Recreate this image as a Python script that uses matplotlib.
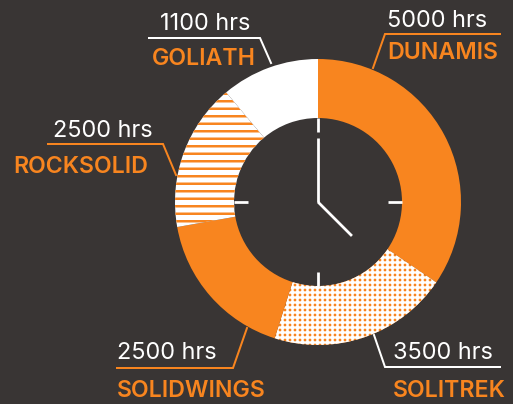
import numpy as np
import matplotlib
matplotlib.use("Agg")
import matplotlib.pyplot as plt

# --- data ---
names = ["DUNAMIS", "SOLITREK", "SOLIDWINGS", "ROCKSOLID", "GOLIATH"]
hours = [5000, 3500, 2500, 2500, 1100]
# slice sizes as drawn in the picture (% of ring, clockwise from 12 o'clock)
shares = [34.5, 20.4, 17.3, 16.7, 11.1]

BG = "#393534"
ORANGE = "#F8851F"
WHITE = "#FFFFFF"

W, H, DPI = 513, 404, 90
CX, CY = 318, 202
R_OUT, R_IN = 143, 84

plt.rcParams["hatch.linewidth"] = 2.0
plt.rcParams["font.family"] = ["Inter", "DejaVu Sans"]

fig = plt.figure(figsize=(W / DPI, H / DPI), dpi=DPI, facecolor=BG)
ax = fig.add_axes([0, 0, 1, 1])
ax.set_facecolor(BG)

# face, hatch colour, hatch pattern
styles = [
    (ORANGE, ORANGE, None),
    (ORANGE, WHITE, "+++"),
    (ORANGE, ORANGE, None),
    (WHITE, ORANGE, "--"),
    (WHITE, WHITE, None),
]

wedges, _ = ax.pie(shares, radius=R_OUT, center=(CX, CY), startangle=90,
                   counterclock=False,
                   wedgeprops=dict(width=R_OUT - R_IN, linewidth=0))
for w, (fc, hc, hatch) in zip(wedges, styles):
    w.set_facecolor(fc)
    w.set_edgecolor(hc)
    w.set_linewidth(0)
    if hatch:
        w.set_hatch(hatch)

# clock face ticks and hands
lw_clock = 2.2
for ang in [90, 0, 180, 270]:
    a = np.deg2rad(ang)
    ax.plot([CX + R_IN * np.cos(a), CX + (R_IN - 14) * np.cos(a)],
            [CY + R_IN * np.sin(a), CY + (R_IN - 14) * np.sin(a)],
            color=WHITE, lw=lw_clock, solid_capstyle="butt")
ax.plot([CX, CX], [CY, CY + 64], color=WHITE, lw=lw_clock, solid_capstyle="butt")
a = np.deg2rad(-45)
ax.plot([CX, CX + 48 * np.cos(a)], [CY, CY + 48 * np.sin(a)],
        color=WHITE, lw=lw_clock, solid_capstyle="butt")

# labels: (x of hours text, baseline of hours, baseline of name, leader line pts, line colour)
# positions in image pixels (y measured from top)
label_pos = {
    "DUNAMIS": (387, 27, 59, [(373, 68), (385, 34), (500, 34)], ORANGE),
    "SOLITREK": (393, 359, 397, [(374, 335), (385, 367), (500, 367)], WHITE),
    "SOLIDWINGS": (117, 359, 397, [(247, 328), (233, 368), (117, 368)], ORANGE),
    "ROCKSOLID": (53, 137, 173, [(176, 175), (163, 144), (48, 144)], ORANGE),
    "GOLIATH": (160, 30, 65, [(271, 63), (260, 38), (149, 38)], WHITE),
}
name_x = {"DUNAMIS": 387, "SOLITREK": 393, "SOLIDWINGS": 117,
          "ROCKSOLID": 13, "GOLIATH": 152}

for name, hrs in zip(names, hours):
    x, yb_h, yb_n, pts, lc = label_pos[name]
    xs = [p[0] for p in pts]
    ys = [H - p[1] for p in pts]
    ax.plot(xs, ys, color=lc, lw=1.6, solid_joinstyle="miter")
    ax.text(x, H - yb_h, f"{hrs} hrs", color=WHITE, fontsize=18.8,
            ha="left", va="baseline")
    ax.text(name_x[name], H - yb_n, name, color=ORANGE, fontsize=18.5,
            fontweight="semibold", ha="left", va="baseline")

ax.set_xlim(0, W)
ax.set_ylim(0, H)
ax.set_aspect("equal")
ax.axis("off")

fig.savefig("out.png", dpi=DPI, facecolor=BG)
